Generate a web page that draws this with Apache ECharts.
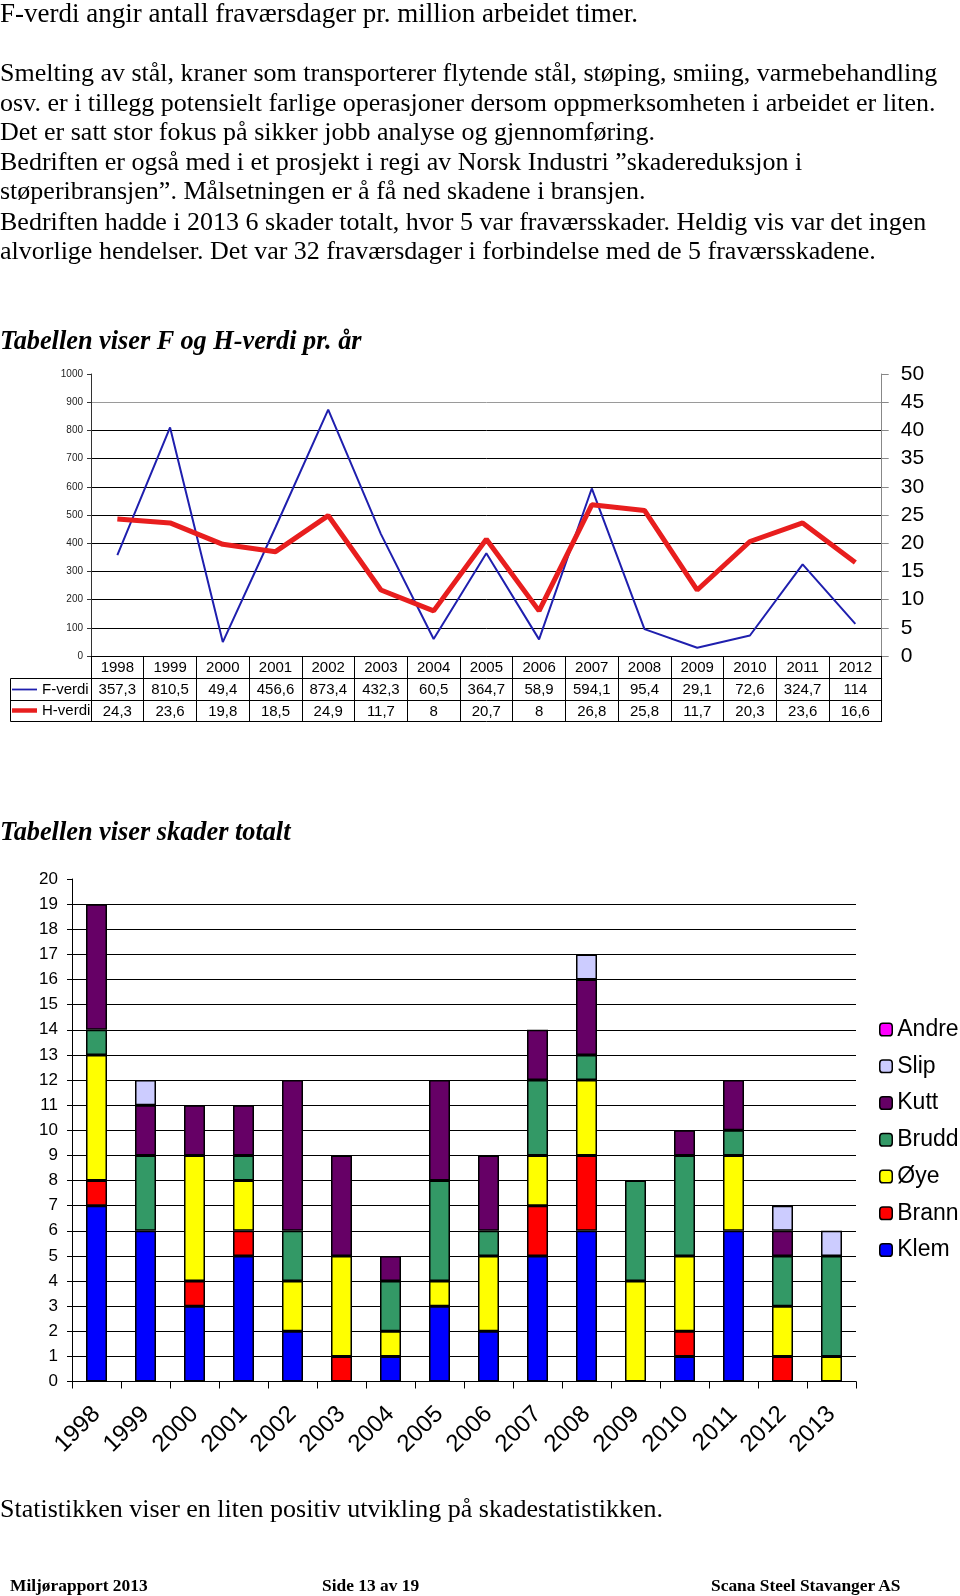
<!DOCTYPE html>
<html><head><meta charset="utf-8">
<script src="https://cdn.jsdelivr.net/npm/echarts@6/dist/echarts.min.js"></script>
<style>
html,body{margin:0;padding:0;background:#fff;}
#page{position:relative;width:960px;height:1596px;overflow:hidden;background:#fff;}
#chart{position:absolute;left:0;top:0;width:960px;height:1596px;}
.t{position:absolute;left:0;white-space:nowrap;font-family:'Liberation Serif','Times New Roman',serif;font-size:26px;line-height:29.6px;color:#000;}
.l1{font-size:27px;}
.bi{font-weight:bold;font-style:italic;font-size:26.3px;}
.f{font-weight:bold;font-size:17.4px;line-height:20px;}
</style></head>
<body><div id="page">
<div id="chart"></div>
<div class="t l1" style="top:-1px">F-verdi angir antall fraværsdager pr. million arbeidet timer.</div>
<div class="t" style="top:58px">Smelting av stål, kraner som transporterer flytende stål, støping, smiing, varmebehandling</div>
<div class="t" style="top:88px">osv. er i tillegg potensielt farlige operasjoner dersom oppmerksomheten i arbeidet er liten.</div>
<div class="t" style="top:117px">Det er satt stor fokus på sikker jobb analyse og gjennomføring.</div>
<div class="t" style="top:147px">Bedriften er også med i et prosjekt i regi av Norsk Industri ”skadereduksjon i</div>
<div class="t" style="top:176px">støperibransjen”. Målsetningen er å få ned skadene i bransjen.</div>
<div class="t" style="top:207px">Bedriften hadde i 2013 6 skader totalt, hvor 5 var fraværsskader. Heldig vis var det ingen</div>
<div class="t" style="top:236px">alvorlige hendelser. Det var 32 fraværsdager i forbindelse med de 5 fraværsskadene.</div>
<div class="t bi" style="top:326px">Tabellen viser F og H-verdi pr. år</div>
<div class="t bi" style="top:817px">Tabellen viser skader totalt</div>
<div class="t" style="top:1494px">Statistikken viser en liten positiv utvikling på skadestatistikken.</div>
<div class="t f" style="top:1575px;left:10px">Miljørapport 2013</div>
<div class="t f" style="top:1575px;left:322px">Side 13 av 19</div>
<div class="t f" style="top:1575px;left:711px">Scana Steel Stavanger AS</div>
</div>
<script>
// ---- Data: F- og H-verdi pr. år ----
const fYears = ['1998','1999','2000','2001','2002','2003','2004','2005','2006','2007','2008','2009','2010','2011','2012'];
const fVerdi = [357.3, 810.5, 49.4, 456.6, 873.4, 432.3, 60.5, 364.7, 58.9, 594.1, 95.4, 29.1, 72.6, 324.7, 114];
const hVerdi = [24.3, 23.6, 19.8, 18.5, 24.9, 11.7, 8, 20.7, 8, 26.8, 25.8, 11.7, 20.3, 23.6, 16.6];
const fTicks = [0, 1000, 100];   // min, max, interval (left axis)
const hTicks = [0, 50, 5];       // min, max, interval (right axis)

// ---- Data: skader totalt ----
const skadeYears = ['1998','1999','2000','2001','2002','2003','2004','2005','2006','2007','2008','2009','2010','2011','2012','2013'];
const klem  = [7, 6, 3, 5, 2, 0, 1, 3, 2, 5, 6, 0, 1, 6, 0, 0];
const brann = [1, 0, 1, 1, 0, 1, 0, 0, 0, 2, 3, 0, 1, 0, 1, 0];
const oye   = [5, 0, 5, 2, 2, 4, 1, 1, 3, 2, 3, 4, 3, 3, 2, 1];
const brudd = [1, 3, 0, 1, 2, 0, 2, 4, 1, 3, 1, 4, 4, 1, 2, 4];
const kutt  = [5, 2, 2, 2, 6, 4, 1, 4, 3, 2, 3, 0, 1, 2, 1, 0];
const slip  = [0, 1, 0, 0, 0, 0, 0, 0, 0, 0, 1, 0, 0, 0, 1, 1];
const andre = [0, 0, 0, 0, 0, 0, 0, 0, 0, 0, 0, 0, 0, 0, 0, 0];
const skadeTicks = [0, 20, 1];

const FONT = "'Liberation Sans', Arial, sans-serif";
const fmt = v => String(v).replace('.', ',');

const skadeDefs = [
  ['Klem', klem, '#0000ff'],
  ['Brann', brann, '#ff0000'],
  ['Øye', oye, '#ffff00'],
  ['Brudd', brudd, '#339966'],
  ['Kutt', kutt, '#660066'],
  ['Slip', slip, '#ccccff'],
  ['Andre', andre, '#ff00ff']
];

const chart = echarts.init(document.getElementById('chart'), null, {renderer: 'canvas'});

const tableAxis = (offset, tickLen, labelFn, showLabel) => ({
  gridIndex: 0, type: 'category', data: fYears, position: 'bottom', offset: offset,
  axisLine: {show: true, onZero: false, lineStyle: {color: '#000', width: 1}},
  axisTick: {show: tickLen > 0, interval: 0, length: tickLen, lineStyle: {color: '#000', width: 1}},
  axisLabel: {show: showLabel, interval: 0, fontSize: 15, color: '#000', margin: 4, fontFamily: FONT,
              formatter: labelFn}
});

const option = {
  animation: false,
  backgroundColor: 'transparent',
  textStyle: {fontFamily: FONT},
  grid: [
    {left: 91, top: 374, width: 790.7, height: 282, outerBoundsMode: 'none'},
    {left: 72, top: 879, width: 784, height: 502.5, outerBoundsMode: 'none'}
  ],
  legend: [
    {data: [{name: 'F-verdi', icon: 'path://M0 0H28V2H0Z'}], left: 12, top: 682, padding: 0, itemWidth: 25, itemHeight: 14,
     selectedMode: false, itemStyle: {borderWidth: 0}, textStyle: {fontSize: 15, color: '#000', fontFamily: FONT}},
    {data: [{name: 'H-verdi', icon: 'path://M0 0H28V5H0Z'}], left: 12, top: 703, padding: 0, itemWidth: 25, itemHeight: 14,
     selectedMode: false, itemStyle: {borderWidth: 0}, textStyle: {fontSize: 15, color: '#000', fontFamily: FONT}},
    {data: ['Andre', 'Slip', 'Kutt', 'Brudd', 'Øye', 'Brann', 'Klem'], orient: 'vertical', left: 879, top: 1017.5,
     padding: 0, itemWidth: 12.5, itemHeight: 12.5, itemGap: 12.75, selectedMode: false,
     itemStyle: {borderColor: '#000', borderWidth: 1.5},
     textStyle: {fontSize: 23, color: '#000', lineHeight: 24, fontFamily: FONT}}
  ],
  graphic: [
    {type: 'polyline', shape: {points: [[91, 678.5], [10.5, 678.5], [10.5, 721.5], [91, 721.5]]}, style: {stroke: '#000', lineWidth: 1, fill: null}},
    {type: 'line', shape: {x1: 10.5, y1: 700.5, x2: 91, y2: 700.5}, style: {stroke: '#000', lineWidth: 1}}
  ],
  xAxis: [
    tableAxis(0, 22, v => v, true),
    tableAxis(22, 22, (v, i) => fmt(fVerdi[i]), true),
    tableAxis(44, 21, (v, i) => fmt(hVerdi[i]), true),
    tableAxis(65, 0, v => '', false),
    {gridIndex: 1, type: 'category', data: skadeYears,
     axisLine: {show: true, onZero: false, lineStyle: {color: '#000', width: 1}},
     axisTick: {show: true, interval: 0, length: 7, lineStyle: {color: '#000'}},
     axisLabel: {interval: 0, rotate: 45, fontSize: 24, color: '#000', margin: 29, fontFamily: FONT}}
  ],
  yAxis: [
    {gridIndex: 0, type: 'value', position: 'left', min: fTicks[0], max: fTicks[1], interval: fTicks[2],
     axisLine: {show: true, lineStyle: {color: '#333'}},
     axisTick: {show: true, length: 4, lineStyle: {color: '#333'}},
     axisLabel: {fontSize: 10, color: '#222', margin: 8, fontFamily: FONT, formatter: v => String(v)},
     splitLine: {show: true, showMaxLine: false,
       lineStyle: {width: 1, color: ['#000','#000','#000','#000','#000','#000','#000','#000','#000','#9a9a9a','#000']}}},
    {gridIndex: 0, type: 'value', position: 'right', min: hTicks[0], max: hTicks[1], interval: hTicks[2],
     axisLine: {show: true, lineStyle: {color: '#888'}},
     axisTick: {show: true, length: 7, lineStyle: {color: '#888'}},
     axisLabel: {fontSize: 21, color: '#000', margin: 19, fontFamily: FONT},
     splitLine: {show: false}},
    {gridIndex: 1, type: 'value', min: skadeTicks[0], max: skadeTicks[1], interval: skadeTicks[2],
     axisLine: {show: true, lineStyle: {color: '#000'}},
     axisTick: {show: true, length: 5, lineStyle: {color: '#000'}},
     axisLabel: {fontSize: 17, color: '#000', margin: 14, fontFamily: FONT},
     splitLine: {show: true, showMaxLine: false, lineStyle: {color: '#000', width: 1}}}
  ],
  series: [
    {name: 'F-verdi', type: 'line', xAxisIndex: 0, yAxisIndex: 0, data: fVerdi, color: '#1f1fae',
     symbol: 'none', lineStyle: {width: 2, color: '#1f1fae'}, z: 3},
    {name: 'H-verdi', type: 'line', xAxisIndex: 0, yAxisIndex: 1, data: hVerdi, color: '#e81e1e',
     symbol: 'none', lineStyle: {width: 5, color: '#e81e1e'}, z: 4}
  ].concat(skadeDefs.map(([name, vals, col]) => ({
    name: name, type: 'bar', xAxisIndex: 4, yAxisIndex: 2, stack: 'skader', barWidth: 21,
    data: vals.map(v => v === 0 ? null : v),
    itemStyle: {color: col, borderColor: '#000', borderWidth: 1.5}
  })))
};
chart.setOption(option);
</script>
</body></html>
